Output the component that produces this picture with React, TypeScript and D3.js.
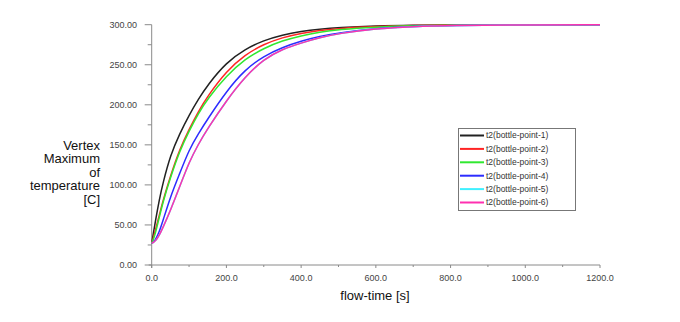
import * as d3 from "d3";
import React, { useRef, useEffect } from "react";

// flow-time samples [s]
const times = [0, 5, 10, 20, 30, 50, 75, 100, 125, 150, 200, 250, 300, 350, 400, 450, 500, 600, 700, 800, 1000, 1200];

// vertex maximum of temperature [C], one list per monitor point
const point1 = [27, 41, 55, 81, 102, 137, 164, 187, 207, 225, 253, 269.5, 280.5, 287.3, 291.7, 294.6, 296.5, 298.5, 299.35, 299.7, 300, 300];
const point2 = [27, 35, 44, 61.5, 80, 111, 144.6, 169.5, 191.8, 211, 242, 262.6, 275.7, 284, 289.4, 293, 295.4, 297.8, 299, 299.55, 299.95, 300];
const point3 = [27, 32.6, 39.6, 58.9, 78.4, 109, 142.4, 167.2, 189.4, 207.7, 236.2, 257.3, 270.6, 280.1, 286.3, 290.8, 293.9, 297.1, 298.7, 299.45, 299.9, 300];
const point4 = [27, 29, 31.2, 41, 55, 85.2, 114.3, 144, 164, 182.4, 217, 244, 260.9, 271.7, 279.6, 285.4, 289.9, 295.4, 297.8, 299, 299.8, 300];
const point5 = [27, 28.4, 29.8, 36.8, 46.6, 68, 97.8, 128.3, 151, 170.4, 205.4, 235, 257, 269.5, 277.2, 283.9, 289, 295.1, 297.7, 299, 299.8, 300];
const point6 = [27, 28.4, 29.8, 36.8, 46.6, 68, 97.8, 128.3, 151, 170.4, 205.4, 235, 257, 269.5, 277.2, 283.9, 289, 295.1, 297.7, 299, 299.8, 300];

const seriesNames = [
  "t2(bottle-point-1)",
  "t2(bottle-point-2)",
  "t2(bottle-point-3)",
  "t2(bottle-point-4)",
  "t2(bottle-point-5)",
  "t2(bottle-point-6)",
];
const seriesValues = [point1, point2, point3, point4, point5, point6];
const colors = ["#222222", "#ff2424", "#30e830", "#2c2cff", "#40f0ff", "#ff30b0"];

const xTicks = [0, 200, 400, 600, 800, 1000, 1200];
const yTicks = [0, 50, 100, 150, 200, 250, 300];

const draw = (node) => {
  const width = 680;
  const height = 322;
  const margin = { top: 24.7, right: 80, bottom: 57, left: 151.7 };

  const svg = d3
    .select(node)
    .append("svg")
    .attr("width", width)
    .attr("height", height)
    .style("position", "absolute")
    .style("left", "0px")
    .style("top", "0px")
    .style("font-family", "'Liberation Sans', Arial, sans-serif");

  svg.append("rect").attr("width", width).attr("height", height).attr("fill", "#fff");

  const x = d3.scaleLinear().domain([0, 1200]).range([margin.left, 600]);
  const y = d3.scaleLinear().domain([0, 300]).range([265, margin.top]);

  const axisColor = "#8a8a8a";

  // y axis
  const gy = svg.append("g");
  gy.append("line")
    .attr("x1", x(0)).attr("x2", x(0))
    .attr("y1", y(300)).attr("y2", y(0) + 3)
    .attr("stroke", axisColor).attr("stroke-width", 1);
  d3.range(0, 301, 25).forEach((v) => {
    const major = v % 50 === 0;
    gy.append("line")
      .attr("x1", x(0) - (major ? 7 : 4)).attr("x2", x(0))
      .attr("y1", y(v)).attr("y2", y(v))
      .attr("stroke", axisColor).attr("stroke-width", 1);
  });
  gy.selectAll("text.ytick")
    .data(yTicks)
    .enter()
    .append("text")
    .attr("class", "ytick")
    .attr("x", 137)
    .attr("y", (d) => y(d))
    .attr("dy", "0.35em")
    .attr("text-anchor", "end")
    .style("font-size", "9px")
    .attr("fill", "#444")
    .text((d) => d.toFixed(2));

  // x axis
  const gx = svg.append("g");
  gx.append("line")
    .attr("x1", x(0) - 3).attr("x2", x(1200))
    .attr("y1", y(0)).attr("y2", y(0))
    .attr("stroke", axisColor).attr("stroke-width", 1);
  d3.range(0, 1201, 100).forEach((v) => {
    const major = v % 200 === 0;
    gx.append("line")
      .attr("x1", x(v)).attr("x2", x(v))
      .attr("y1", y(0)).attr("y2", y(0) + (major ? 3 : 2))
      .attr("stroke", axisColor).attr("stroke-width", 1);
  });
  gx.selectAll("text.xtick")
    .data(xTicks)
    .enter()
    .append("text")
    .attr("class", "xtick")
    .attr("x", (d) => x(d))
    .attr("y", 278)
    .attr("dy", "0.35em")
    .attr("text-anchor", "middle")
    .style("font-size", "9px")
    .attr("fill", "#444")
    .text((d) => d.toFixed(1));

  // axis titles
  svg.append("text")
    .attr("x", 375)
    .attr("y", 300)
    .attr("text-anchor", "middle")
    .style("font-size", "13px")
    .attr("fill", "#111")
    .text("flow-time [s]");

  const yTitle = ["Vertex", "Maximum", "of", "temperature", "[C]"];
  svg.append("g")
    .selectAll("text")
    .data(yTitle)
    .enter()
    .append("text")
    .attr("x", 100)
    .attr("y", (d, i) => 145 + i * 13.5)
    .attr("dy", "0.35em")
    .attr("text-anchor", "end")
    .style("font-size", "13px")
    .attr("fill", "#111")
    .text((d) => d);

  // curves
  const line = d3
    .line()
    .x((d, i) => x(times[i]))
    .y((d) => y(d))
    .curve(d3.curveBasis);

  seriesValues.forEach((vals, k) => {
    svg.append("path")
      .datum(vals)
      .attr("d", line)
      .attr("fill", "none")
      .attr("stroke", colors[k])
      .attr("stroke-width", 1.5);
  });

  // legend
  const lg = svg.append("g");
  lg.append("rect")
    .attr("x", 458.5).attr("y", 128.5)
    .attr("width", 117).attr("height", 82)
    .attr("fill", "#fff")
    .attr("stroke", "#777").attr("stroke-width", 1);
  seriesNames.forEach((name, k) => {
    const ly = 135.5 + k * 13.4;
    lg.append("line")
      .attr("x1", 460).attr("x2", 484)
      .attr("y1", ly).attr("y2", ly)
      .attr("stroke", colors[k]).attr("stroke-width", 2);
    lg.append("text")
      .attr("x", 486)
      .attr("y", ly)
      .attr("dy", "0.35em")
      .style("font-size", "8.5px")
      .attr("fill", "#333")
      .text(name);
  });
};

const App = () => {
  const myRef = useRef(null);

  useEffect(() => {
    d3.select(myRef.current).selectAll("*").remove();
    draw(myRef.current);
  }, []);

  return <div ref={myRef}></div>;
};

export default App;
